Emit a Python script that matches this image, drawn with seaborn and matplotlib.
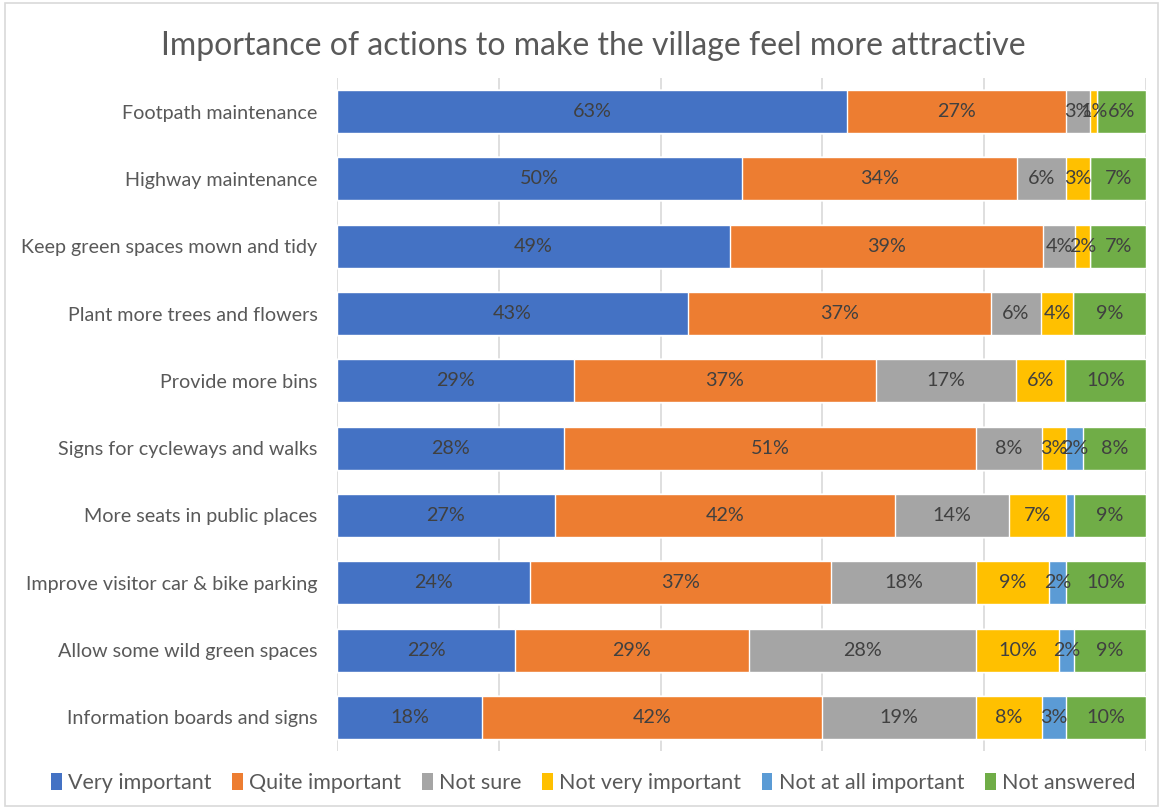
import numpy as np
import pandas as pd
import seaborn as sns
import matplotlib.pyplot as plt
from matplotlib.patches import Rectangle, Patch

actions = [
    "Footpath maintenance",
    "Highway maintenance",
    "Keep green spaces mown and tidy",
    "Plant more trees and flowers",
    "Provide more bins",
    "Signs for cycleways and walks",
    "More seats in public places",
    "Improve visitor car & bike parking",
    "Allow some wild green spaces",
    "Information boards and signs",
]
# shares of respondents (%), labels show them rounded
very_important = [63.0, 50.1, 48.6, 43.4, 29.3, 28.1, 26.9, 23.9, 22.0, 17.9]
quite_important = [27.1, 34.0, 38.7, 37.4, 37.3, 50.9, 42.1, 37.2, 28.9, 42.1]
not_sure = [3.0, 6.0, 3.9, 6.2, 17.3, 8.1, 14.1, 17.9, 28.1, 19.0]
not_very_important = [0.9, 3.0, 1.9, 4.0, 6.1, 3.0, 7.0, 9.0, 10.2, 8.1]
not_at_all_important = [0.0, 0.0, 0.0, 0.0, 0.0, 2.1, 1.0, 2.1, 1.9, 3.0]
not_answered = [6.0, 6.9, 6.9, 9.0, 10.0, 7.8, 8.9, 9.9, 8.9, 9.9]

series_names = ["Very important", "Quite important", "Not sure",
                "Not very important", "Not at all important", "Not answered"]
series_values = [very_important, quite_important, not_sure,
                 not_very_important, not_at_all_important, not_answered]
colors = ["#4472C4", "#ED7D31", "#A5A5A5", "#FFC000", "#5B9BD5", "#70AD47"]
# segments too thin to carry a readable label
unlabelled = {("More seats in public places", "Not at all important")}

sns.set_theme(style="white")
plt.rcParams["font.family"] = ["Lato", "DejaVu Sans"]

vals = np.array(series_values, dtype=float)
cum = np.cumsum(vals, axis=0)

fig = plt.figure(figsize=(11.63, 8.09), dpi=100)
ax = fig.add_axes([0.2898, 0.0717, 0.6956, 0.8319])

# stacked bars: draw the running totals from the widest down
for i in range(len(series_names) - 1, -1, -1):
    df = pd.DataFrame({"action": actions, "total": cum[i]})
    sns.barplot(data=df, x="total", y="action", orient="h", color=colors[i],
                saturation=1, width=0.64, ax=ax, order=actions)

# value labels centred in each segment
for i, name in enumerate(series_names):
    for j, act in enumerate(actions):
        v = vals[i, j]
        if v <= 0 or (act, name) in unlabelled:
            continue
        centre = cum[i, j] - v / 2
        ax.text(centre, j, f"{int(v + 0.5)}%", ha="center", va="center",
                fontsize=14.2, color="#404040")

ax.set_xlim(0, 100)
ax.set_ylim(len(actions) - 0.5, -0.5)
ax.set_xticks([0, 20, 40, 60, 80, 100])
ax.set_xticklabels([])
ax.set_axisbelow(True)
ax.grid(axis="x", color="#D9D9D9", linewidth=1.2)
ax.set_xlabel("")
ax.set_ylabel("")
for s in ax.spines.values():
    s.set_visible(False)
ax.tick_params(axis="y", length=0, pad=14, labelsize=14.2, labelcolor="#595959")
ax.tick_params(axis="x", length=0)

fig.suptitle("Importance of actions to make the village feel more attractive",
             x=0.51, y=0.962, fontsize=23, color="#595959")

handles = [Patch(facecolor=c, edgecolor="none") for c in colors]
fig.legend(handles, series_names, loc="center", bbox_to_anchor=(0.51, 0.032),
           ncol=6, frameon=False, fontsize=15.5, handlelength=0.5,
           handleheight=0.85, handletextpad=0.3, columnspacing=0.95,
           labelcolor="#595959")

fig.patches.append(Rectangle((0.004, 0.004), 0.992, 0.992, transform=fig.transFigure,
                             fill=False, edgecolor="#D9D9D9", linewidth=1.2))

fig.savefig("out.png", dpi=100)
